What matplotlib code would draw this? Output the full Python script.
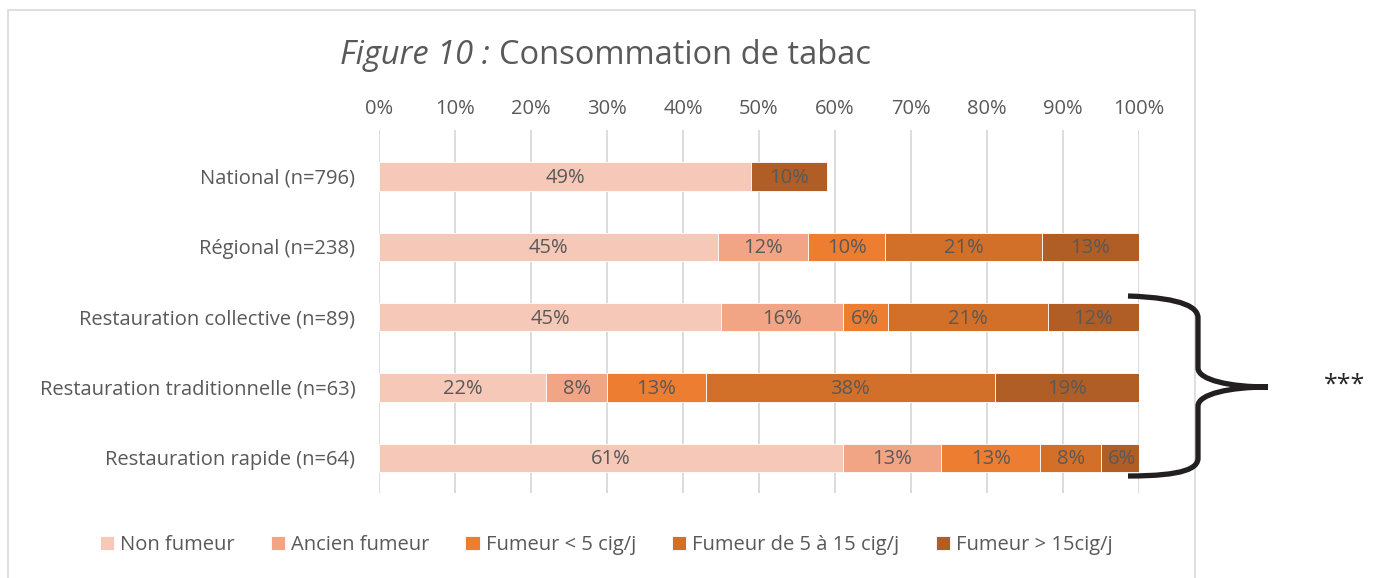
import numpy as np
import matplotlib.pyplot as plt
from matplotlib.patches import Rectangle, PathPatch
from matplotlib.path import Path

plt.rcParams['font.family'] = ['Open Sans', 'DejaVu Sans']

categories = ["National (n=796)", "Régional (n=238)", "Restauration collective (n=89)",
              "Restauration traditionnelle (n=63)", "Restauration rapide (n=64)"]
series = ["Non fumeur", "Ancien fumeur", "Fumeur < 5 cig/j", "Fumeur de 5 à 15 cig/j", "Fumeur > 15cig/j"]
non_fumeur = [49, 44.6, 45, 22, 61]
ancien = [0, 11.9, 16, 8, 13]
moins5 = [0, 10.1, 6, 13, 13]
de5a15 = [0, 20.6, 21, 38, 8]
plus15 = [10, 12.8, 12, 19, 5.6]
colors = ["#F6C8B8", "#F1A585", "#ED7D31", "#D26F29", "#B05D26"]
ticks = np.arange(0, 101, 10)

fig = plt.figure(figsize=(13.83, 5.78), dpi=100)
ax = fig.add_axes([379/1383, 1-493/578, 760/1383, 363/578])

data = [non_fumeur, ancien, moins5, de5a15, plus15]
y = np.arange(len(categories))
left = np.zeros(len(categories))
for vals, col, name in zip(data, colors, series):
    vals = np.array(vals, dtype=float)
    ax.barh(y, vals, left=left, height=0.4, color=col, edgecolor='white', linewidth=0.6, label=name, zorder=3)
    for i, v in enumerate(vals):
        if v > 0:
            ax.text(left[i] + v/2, y[i] + 0.02, f"{v:.0f}%", ha='center', va='center',
                    fontsize=14.5, color='#595959', zorder=4)
    left += vals

ax.set_xlim(0, 100)
ax.set_ylim(4.5, -0.66)
ax.set_xticks(ticks)
ax.set_xticklabels([f"{t}%" for t in ticks])
ax.xaxis.tick_top()
ax.tick_params(axis='x', length=0, pad=8, labelsize=14.5, labelcolor='#595959')
ax.set_yticks(y)
ax.set_yticklabels(categories)
ax.tick_params(axis='y', length=0, pad=17, labelsize=14.5, labelcolor='#595959')
ax.grid(axis='x', color='#D9D9D9', linewidth=1.3, zorder=0)
for s in ax.spines.values():
    s.set_visible(False)

# chart border
fig.patches.append(Rectangle((8/1383, -0.01), (1195-8)/1383, 1-10/578+0.01, transform=fig.transFigure,
                             fill=False, edgecolor='#D9D9D9', linewidth=1.2))

# title
fig.text(490/1383, 1-55/578, "Figure 10 :", ha='right', va='center', fontsize=23.5, style='italic', color='#595959')
fig.text(499/1383, 1-55/578, "Consommation de tabac", ha='left', va='center', fontsize=23.5, color='#595959')

# brace
H = 578
pts = [(1128, 296), (1185, 298), (1198, 308), (1198, 318),
       (1198, 368), (1198, 380), (1230, 387), (1268, 387),
       (1230, 387), (1198, 394), (1198, 406),
       (1198, 458), (1198, 468), (1185, 476), (1128, 476)]
codes = [Path.MOVETO, Path.CURVE4, Path.CURVE4, Path.CURVE4,
         Path.LINETO, Path.CURVE4, Path.CURVE4, Path.CURVE4,
         Path.CURVE4, Path.CURVE4, Path.CURVE4,
         Path.LINETO, Path.CURVE4, Path.CURVE4, Path.CURVE4]
verts = [(x/1383, 1-yy/H) for x, yy in pts]
fig.patches.append(PathPatch(Path(verts, codes), transform=fig.transFigure, fill=False,
                             edgecolor='#231F20', linewidth=3.8, capstyle='butt'))
fig.text(1345/1383, 1-385/578, "***", ha='center', va='center', fontsize=18, color='#262626')

handles, labels = ax.get_legend_handles_labels()
fig.legend(handles, labels, loc='center', bbox_to_anchor=(606/1383, 1-545/578), ncol=5, frameon=False,
           fontsize=14.5, labelcolor='#595959', handlelength=0.7, handleheight=0.7, handletextpad=0.3,
           columnspacing=1.8)

fig.savefig("out.png", dpi=100)
